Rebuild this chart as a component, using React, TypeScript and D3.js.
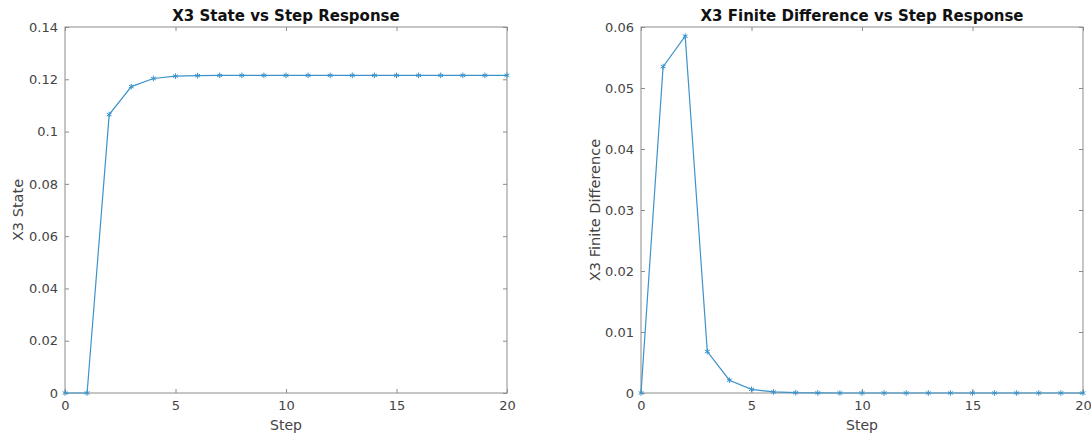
import React, { useEffect, useRef } from "react";
import * as d3 from "d3";

const steps = [0, 1, 2, 3, 4, 5, 6, 7, 8, 9, 10, 11, 12, 13, 14, 15, 16, 17, 18, 19, 20];
const stateValues = [
  0, 0, 0.1065, 0.1172, 0.1203, 0.1212, 0.1214, 0.1215, 0.1215, 0.1215, 0.1215,
  0.1215, 0.1215, 0.1215, 0.1215, 0.1215, 0.1215, 0.1215, 0.1215, 0.1215, 0.1215,
];
const diffValues = [
  0, 0.0535, 0.0585, 0.0068, 0.0021, 0.0006, 0.00018, 0.00005, 0.00002, 0, 0,
  0, 0, 0, 0, 0, 0, 0, 0, 0, 0,
];
const xTicks = [0, 5, 10, 15, 20];
const stateTicks = [0, 0.02, 0.04, 0.06, 0.08, 0.1, 0.12, 0.14];
const diffTicks = [0, 0.01, 0.02, 0.03, 0.04, 0.05, 0.06];

const panels = [
  {
    title: "X3 State vs Step Response",
    yLabel: "X3 State",
    values: stateValues,
    yTicks: stateTicks,
    yMax: 0.14,
    left: 65,
    right: 507,
    labelX: 18,
  },
  {
    title: "X3 Finite Difference vs Step Response",
    yLabel: "X3 Finite Difference",
    values: diffValues,
    yTicks: diffTicks,
    yMax: 0.06,
    left: 641,
    right: 1083,
    labelX: 595,
  },
];

const TOP = 27;
const BOTTOM = 393;
const LINE = "#3b93c9";
const AXIS = "#8c8c8c";
const TEXT = "#444";
const FONT = "'DejaVu Sans', sans-serif";

const App = () => {
  const svgRef = useRef<SVGSVGElement>(null);

  useEffect(() => {
    const svg = d3.select(svgRef.current);
    svg.selectAll("*").remove();

    panels.forEach((p) => {
      const x = d3.scaleLinear().domain([0, 20]).range([p.left, p.right]);
      const y = d3.scaleLinear().domain([0, p.yMax]).range([BOTTOM, TOP]);
      const g = svg.append("g");

      // box
      g.append("rect")
        .attr("x", p.left)
        .attr("y", TOP)
        .attr("width", p.right - p.left)
        .attr("height", BOTTOM - TOP)
        .attr("fill", "white")
        .attr("stroke", AXIS)
        .attr("stroke-width", 1);

      const fmt = (d: number) => d3.format("~g")(d);

      const styleAxis = (a: any) => {
        a.select(".domain").remove();
        a.selectAll("line").attr("stroke", AXIS);
        a.selectAll("text")
          .attr("fill", TEXT)
          .style("font-family", FONT)
          .style("font-size", "13px");
      };

      g.append("g")
        .attr("transform", `translate(0,${BOTTOM})`)
        .call(d3.axisBottom(x).tickValues(xTicks).tickSize(-4).tickPadding(8).tickFormat(fmt as any))
        .call(styleAxis);
      g.append("g")
        .attr("transform", `translate(0,${TOP})`)
        .call(d3.axisTop(x).tickValues(xTicks).tickSize(-4).tickFormat(() => ""))
        .call(styleAxis);
      g.append("g")
        .attr("transform", `translate(${p.left},0)`)
        .call(d3.axisLeft(y).tickValues(p.yTicks).tickSize(-4).tickPadding(7).tickFormat(fmt as any))
        .call(styleAxis);
      g.append("g")
        .attr("transform", `translate(${p.right},0)`)
        .call(d3.axisRight(y).tickValues(p.yTicks).tickSize(-4).tickFormat(() => ""))
        .call(styleAxis);

      const data = steps.map((s, i) => ({ s, v: p.values[i] }));
      const line = d3
        .line<{ s: number; v: number }>()
        .x((d) => x(d.s))
        .y((d) => y(d.v));

      g.append("path")
        .datum(data)
        .attr("fill", "none")
        .attr("stroke", LINE)
        .attr("stroke-width", 1.2)
        .attr("d", line);

      g.selectAll(".m")
        .data(data)
        .join("path")
        .attr("transform", (d) => `translate(${x(d.s)},${y(d.v)})`)
        .attr("d", d3.symbol(d3.symbolAsterisk, 22)())
        .attr("fill", "none")
        .attr("stroke", LINE)
        .attr("stroke-width", 1);

      g.append("text")
        .attr("x", (p.left + p.right) / 2)
        .attr("y", 21)
        .attr("text-anchor", "middle")
        .attr("fill", "#111")
        .style("font-family", FONT)
        .style("font-size", "15px")
        .style("font-weight", "bold")
        .text(p.title);

      g.append("text")
        .attr("x", (p.left + p.right) / 2)
        .attr("y", 430)
        .attr("text-anchor", "middle")
        .attr("fill", TEXT)
        .style("font-family", FONT)
        .style("font-size", "14px")
        .text("Step");

      g.append("text")
        .attr("transform", `translate(${p.labelX + 5},${(TOP + BOTTOM) / 2}) rotate(-90)`)
        .attr("text-anchor", "middle")
        .attr("fill", TEXT)
        .style("font-family", FONT)
        .style("font-size", "14.5px")
        .text(p.yLabel);
    });
  }, []);

  return (
    <svg
      ref={svgRef}
      width={1091}
      height={435}
      style={{ position: "absolute", left: 0, top: 0, background: "white" }}
    />
  );
};

export default App;
